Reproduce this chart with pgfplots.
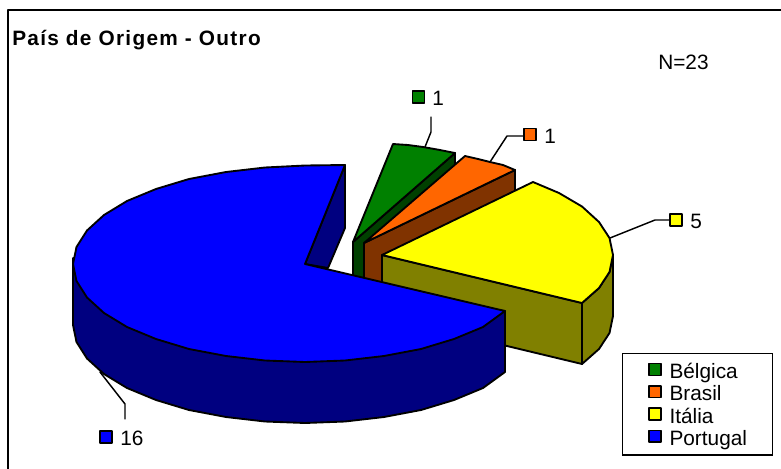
\documentclass[border=0pt]{standalone}
\usepackage{fontspec}
\setmainfont{Liberation Sans}
\newfontfamily\titlefont[LetterSpace=6.2]{Liberation Sans}
\usepackage{pgfplots}
\pgfplotsset{compat=1.18}
\definecolor{pgreen}{RGB}{0,128,0}
\definecolor{dgreen}{RGB}{0,64,0}
\definecolor{porange}{RGB}{255,102,0}
\definecolor{dbrown}{RGB}{128,51,0}
\definecolor{pyellow}{RGB}{255,255,0}
\definecolor{dolive}{RGB}{128,128,0}
\definecolor{pblue}{RGB}{0,0,255}
\definecolor{dnavy}{RGB}{0,0,128}
\begin{document}
\begin{tikzpicture}[every node/.style={font=\fontsize{15.6pt}{18pt}\selectfont}]
\path[use as bounding box] (0,0) rectangle (585.75pt,351pt);
\begin{axis}[
  at={(0,0)}, anchor=south west,
  scale only axis, width=585.75pt, height=351pt,
  xmin=0, xmax=781, ymin=0, ymax=468, y dir=reverse,
  hide axis,
  legend image code/.code={\draw[#1] (0pt,-3.3pt) rectangle (8.8pt,5.5pt);},
  legend entries={B\'elgica,Brasil,It\'alia,Portugal},
  legend cell align=left,
  legend style={at={(axis cs:622,353)}, anchor=north west, draw=black, line width=1.1pt,
    inner xsep=19.2pt, inner ysep=4.6pt, row sep=0pt,
    font=\fontsize{15.6pt}{18pt}\selectfont,
    nodes={inner sep=0pt, text height=14pt, text depth=2.7pt},
    /tikz/every odd column/.append style={column sep=6pt}},
  every axis plot/.append style={line join=round, line cap=round},
]
\addlegendimage{fill=pgreen,draw=black,line width=1.1pt}
\addlegendimage{fill=porange,draw=black,line width=1.1pt}
\addlegendimage{fill=pyellow,draw=black,line width=1.1pt}
\addlegendimage{fill=pblue,draw=black,line width=1.1pt}

% frame
\addplot[draw=black,line width=1.7pt] coordinates {(8,480)(8,10)(790,10)};

% leader lines
\addplot[draw=black,line width=1.1pt] coordinates {(431,117)(431,132)(425,147)};
\addplot[draw=black,line width=1.1pt] coordinates {(523,136)(507,136)(490,162)};
\addplot[draw=black,line width=1.1pt] coordinates {(669,220)(655,220)(610,238)};
\addplot[draw=black,line width=1.1pt] coordinates {(125,419)(125,404)(100,372)};

% Belgica
\addplot[fill=dgreen,draw=black,line width=1.4pt] coordinates {(353,242)(455,153)(455,214)(353,303)(353,242)};
\addplot[fill=pgreen,draw=black,line width=1.4pt] coordinates {(353,242)(393,144)(408,145)(423,147)(440,150)(455,153)(353,242)};
% Brasil
\addplot[fill=dbrown,draw=black,line width=1.4pt] coordinates {(364,243)(515,170)(515,232)(364,305)(364,243)};
\addplot[fill=porange,draw=black,line width=1.4pt] coordinates {(364,243)(465,156)(478,159)(490,162)(503,165)(515,170)(364,243)};
% Italia
\addplot[fill=dolive,draw=black,line width=1.4pt] coordinates {(382,255)(582,303)(582,364)(382,316)(382,255)};
\addplot[fill=dolive,draw=black,line width=1.4pt] coordinates {(582,303)(599,288)(609.5,272)(613,255)(613,316)(609.5,333)(599,349)(582,364)(582,303)};
\addplot[fill=pyellow,draw=black,line width=1.4pt] coordinates {(382,255)(533,182)(559,193)(582,206.5)(599,222)(609.5,238)(613,255)(609.5,272)(599,288)(582,303)(382,255)};
% Portugal
\addplot[fill=dnavy,draw=black,line width=1.4pt] coordinates {(345,165)(345,228)(328,268)(305,264)(345,165)};
\addplot[fill=dnavy,draw=black,line width=1.4pt] coordinates {(73,258)(73,325)(76.5,342)(87,358.5)(104,374)(127,388)(156,400)(189,410)(226,417)(265,421.5)(305,423)(345,421.5)(384,417)(421,410)(454,400)(483,388)(505,372)(505,311)(73,258)};
\addplot[fill=pblue,draw=black,line width=1.4pt] coordinates {(345,165)(305,165.5)(265,167.5)(226,172)(189,179)(156,189)(127,201)(104,215)(87,230.5)(76.5,247)(73,264)(76.5,281)(87,297.5)(104,313)(127,327)(156,339)(189,349)(226,356)(265,360.5)(305,362)(345,360.5)(384,356)(421,349)(454,339)(483,327)(505,311)(305,264)(345,165)};

% value markers
\addplot[only marks,mark=square*,mark size=4.4pt,mark options={fill=pgreen,draw=black,line width=1.1pt}] coordinates {(418.5,97)};
\addplot[only marks,mark=square*,mark size=4.4pt,mark options={fill=porange,draw=black,line width=1.1pt}] coordinates {(530,134.5)};
\addplot[only marks,mark=square*,mark size=4.4pt,mark options={fill=pyellow,draw=black,line width=1.1pt}] coordinates {(676,220)};
\addplot[only marks,mark=square*,mark size=4.4pt,mark options={fill=pblue,draw=black,line width=1.1pt}] coordinates {(106,437)};

\node[anchor=base west,inner sep=0pt] at (axis cs:432,105) {1};
\node[anchor=base west,inner sep=0pt] at (axis cs:544,143) {1};
\node[anchor=base west,inner sep=0pt] at (axis cs:690,228) {5};
\node[anchor=base west,inner sep=0pt] at (axis cs:120,445) {16};
\node[anchor=base west,inner sep=0pt] at (axis cs:658,69) {N=23};
\node[anchor=base west,inner sep=0pt,font=\titlefont\bfseries\fontsize{15.6pt}{18pt}\selectfont] at (axis cs:12,45) {Pa\'is de Origem - Outro};
\end{axis}
\end{tikzpicture}
\end{document}
